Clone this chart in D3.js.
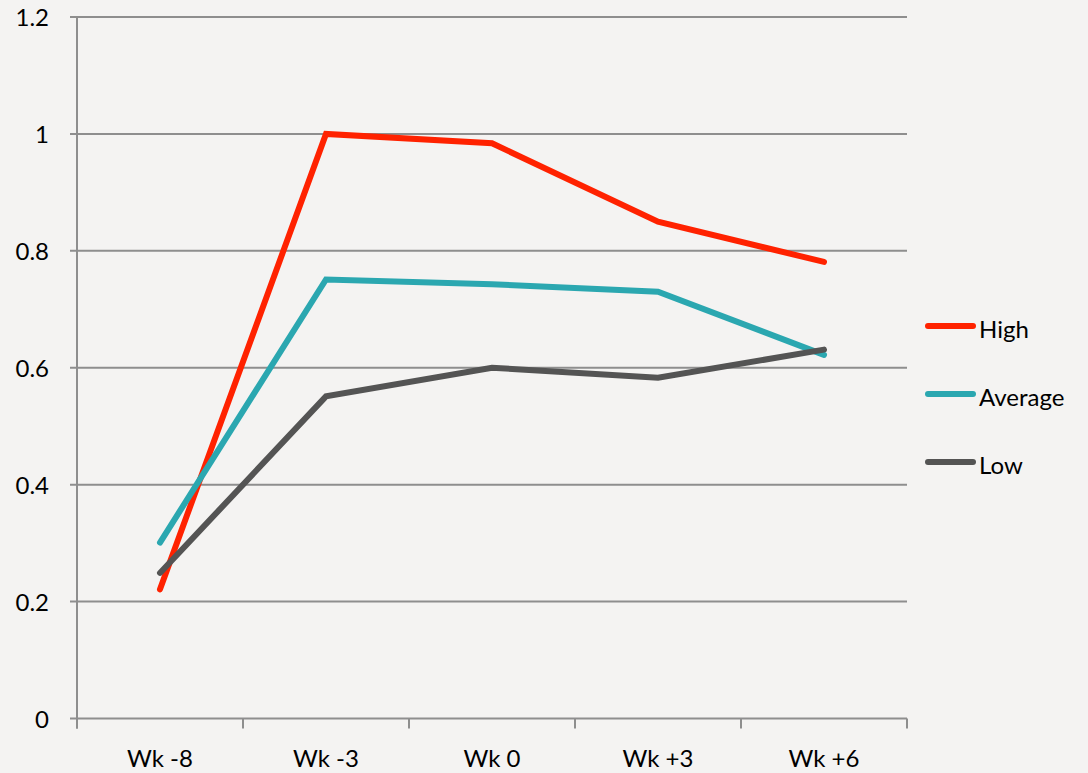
<!DOCTYPE html>
<html>
<head>
<meta charset="utf-8">
<script src="https://cdn.jsdelivr.net/npm/d3@7"></script>
<style>
  html, body { margin: 0; padding: 0; background: #f4f3f2; }
  svg { display: block; }
</style>
</head>
<body>
<svg id="chart" width="1088" height="773"></svg>
<script>
const categories = ["Wk -8", "Wk -3", "Wk 0", "Wk +3", "Wk +6"];
const high = [0.221, 1.0, 0.984, 0.850, 0.781];
const average = [0.301, 0.751, 0.743, 0.730, 0.622];
const low = [0.249, 0.551, 0.600, 0.583, 0.631];
const seriesNames = ["High", "Average", "Low"];
const seriesColors = ["#ff2200", "#2ba7b0", "#545454"];
const yTicks = [0, 0.2, 0.4, 0.6, 0.8, 1, 1.2];

const series = [high, average, low].map((vals, i) => ({
  name: seriesNames[i], color: seriesColors[i], values: vals
}));

const svg = d3.select("#chart");
const mLeft = 77, mRight = 907, mTop = 17, mBottom = 718.5;
const font = "Lato, 'Open Sans', sans-serif";

svg.append("rect").attr("width", 1088).attr("height", 773).attr("fill", "#f4f3f2");

const x = d3.scaleBand().domain(categories).range([mLeft, mRight]).padding(0);
const y = d3.scaleLinear().domain([0, 1.2]).range([mBottom, mTop]);
const gridColor = "#8e8e8e";

// gridlines
svg.append("g").selectAll("line").data(yTicks).join("line")
  .attr("x1", mLeft - 7).attr("x2", mRight)
  .attr("y1", d => y(d)).attr("y2", d => y(d))
  .attr("stroke", gridColor).attr("stroke-width", 2);

// y axis line
svg.append("line").attr("x1", mLeft).attr("x2", mLeft).attr("y1", mTop - 1).attr("y2", mBottom + 10)
  .attr("stroke", gridColor).attr("stroke-width", 2);

// x tick marks at band boundaries
const bounds = categories.map(c => x(c)).concat([mRight]);
svg.append("g").selectAll("line").data(bounds).join("line")
  .attr("x1", d => d).attr("x2", d => d)
  .attr("y1", mBottom).attr("y2", mBottom + 10)
  .attr("stroke", gridColor).attr("stroke-width", 2);

// y labels
svg.append("g").selectAll("text").data(yTicks).join("text")
  .attr("x", 49).attr("y", d => y(d) + 9)
  .attr("text-anchor", "end")
  .attr("font-family", font).attr("font-size", 24).attr("fill", "#000")
  .text(d => d3.format("")(d));

// x labels
svg.append("g").selectAll("text").data(categories).join("text")
  .attr("x", d => x(d) + x.bandwidth() / 2).attr("y", 767)
  .attr("text-anchor", "middle")
  .attr("font-family", font).attr("font-size", 24).attr("fill", "#000")
  .text(d => d);

// lines
const line = d3.line()
  .x((d, i) => x(categories[i]) + x.bandwidth() / 2)
  .y(d => y(d));

svg.append("g").selectAll("path").data(series).join("path")
  .attr("d", d => line(d.values))
  .attr("fill", "none")
  .attr("stroke", d => d.color)
  .attr("stroke-width", 6)
  .attr("stroke-linecap", "round")
  .attr("stroke-linejoin", "miter");

// legend
const legendY = [326, 394, 462];
const lg = svg.append("g").selectAll("g").data(series).join("g")
  .attr("transform", (d, i) => `translate(0, ${legendY[i]})`);
lg.append("line").attr("x1", 928).attr("x2", 973).attr("y1", 0).attr("y2", 0)
  .attr("stroke", d => d.color).attr("stroke-width", 6).attr("stroke-linecap", "round");
lg.append("text").attr("x", 979).attr("y", 12)
  .attr("font-family", font).attr("font-size", 24).attr("fill", "#000")
  .text(d => d.name);
</script>
</body>
</html>
